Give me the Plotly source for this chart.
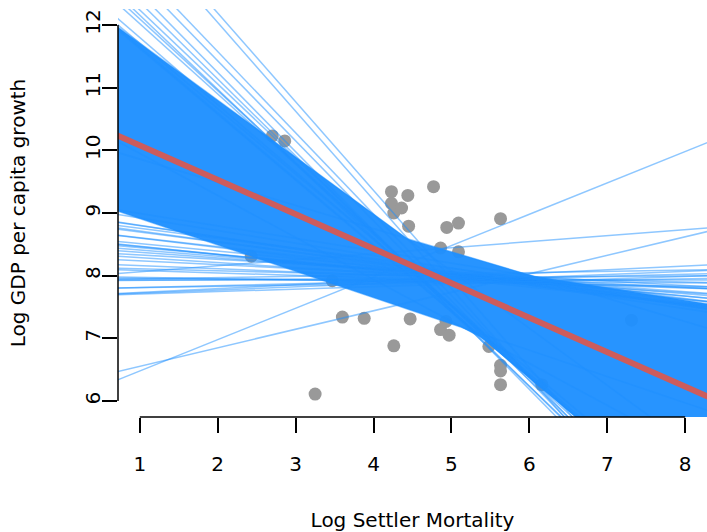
import numpy as np
import plotly.graph_objects as go

# ---- data ----
point_x = [2.70, 2.86, 2.43, 3.47, 3.60, 3.88, 3.25, 4.23, 4.23, 4.26, 4.36, 4.44,
           4.45, 4.77, 4.94, 5.09, 5.09, 5.63, 4.47, 4.26, 4.86, 4.93, 4.97, 5.48,
           5.63, 5.63, 5.63, 6.16, 7.31, 4.86]
point_y = [10.23, 10.15, 8.31, 7.92, 7.34, 7.32, 6.11, 9.34, 9.155, 9.00, 9.08, 9.28,
           8.79, 9.42, 8.77, 8.84, 8.38, 8.91, 7.31, 6.88, 7.14, 7.27, 7.05, 6.87,
           6.57, 6.48, 6.26, 6.26, 7.29, 8.44]

# dense core of bootstrap fits (intercept, slope)
core_intercepts = [12.62, 10.23, 9.19, 9.33, 10.62, 12.675]
core_slopes     = [-0.91, -0.37, -0.198, -0.42, -0.67, -1.05]

# individual visible bootstrap fits outside the core (intercept, slope)
line_intercepts = [15.02, 14.87, 14.17, 13.98, 13.77, 13.59, 13.42, 13.34, 13.24, 13.14,
                   12.87, 12.75, 12.71,
                   7.67, 7.782, 7.674, 7.93, 7.992, 8.138, 8.21, 8.296, 8.368, 8.464,
                   8.51, 8.582, 8.632, 8.744, 8.75, 8.856, 8.882, 8.978, 8.994, 9.12,
                   7.914, 7.788, 8.124, 8.402, 7.666, 8.556, 8.598, 8.916, 7.928, 7.966,
                   7.967, 5.98, 6.26]
line_slopes     = [-1.415, -1.415, -1.297, -1.276, -1.264, -1.226, -1.181, -1.184, -1.144, -1.12,
                   -1.072, -1.043, -1.055,
                   0.05, 0.03, 0.06, 0.00, -0.02, -0.03, -0.05, -0.06, -0.08, -0.09,
                   -0.10, -0.12, -0.12, -0.14, -0.15, -0.16, -0.17, -0.18, -0.19, -0.20,
                   0.01, 0.02, -0.04, -0.07, 0.04, -0.11, -0.13, -0.16, 0.02, -0.01,
                   0.096, 0.50, 0.295]

fit_intercept = 10.63
fit_slope = -0.55

x_ticks = [1, 2, 3, 4, 5, 6, 7, 8]
y_ticks = [6, 7, 8, 9, 10, 11, 12]
x_range = [0.72, 8.28]
y_range = [5.745, 12.255]

BLUE = "rgba(30,144,255,0.5)"
FONT = "DejaVu Sans"
FS = 20

fig = go.Figure()

# points (drawn first, beneath the fits)
fig.add_trace(go.Scatter(x=point_x, y=point_y, mode="markers",
                         marker=dict(size=13, color="#999999"),
                         hoverinfo="skip", showlegend=False))

# core envelope of the dense fits
gx = np.linspace(x_range[0], x_range[1], 300)
core = np.array([a + b * gx for a, b in zip(core_intercepts, core_slopes)])
upper = core.max(axis=0)
lower = core.min(axis=0)
fig.add_trace(go.Scatter(x=np.concatenate([gx, gx[::-1]]),
                         y=np.concatenate([upper, lower[::-1]]),
                         mode="lines", fill="toself",
                         fillcolor="rgba(30,144,255,0.96)",
                         line=dict(width=0), hoverinfo="skip", showlegend=False))

lx = np.array([0.0, 9.0])
for a, b in zip(core_intercepts, core_slopes):
    fig.add_trace(go.Scatter(x=lx, y=a + b * lx, mode="lines",
                             line=dict(color=BLUE, width=1.5),
                             hoverinfo="skip", showlegend=False))
for a, b in zip(line_intercepts, line_slopes):
    fig.add_trace(go.Scatter(x=lx, y=a + b * lx, mode="lines",
                             line=dict(color=BLUE, width=1.5),
                             hoverinfo="skip", showlegend=False))

# overall fit
fig.add_trace(go.Scatter(x=lx, y=fit_intercept + fit_slope * lx, mode="lines",
                         line=dict(color="#CD5C5C", width=6),
                         hoverinfo="skip", showlegend=False))

fig.update_layout(
    width=707, height=532,
    margin=dict(l=118, r=0, t=9, b=115),
    paper_bgcolor="white", plot_bgcolor="white",
    font=dict(family=FONT, size=FS, color="black"),
    showlegend=False,
    xaxis=dict(range=x_range, tickvals=x_ticks, ticktext=[str(v) for v in x_ticks],
               showgrid=False, zeroline=False, showline=False,
               ticks="outside", ticklen=15, tickwidth=1.5, tickcolor="black",
               ticklabelstandoff=14,
               title=dict(text="Log Settler Mortality", standoff=40,
                          font=dict(family=FONT, size=FS))),
    yaxis=dict(range=y_range, tickvals=y_ticks, ticktext=[str(v) for v in y_ticks],
               tickangle=-90,
               showgrid=False, zeroline=False, showline=False,
               ticks="outside", ticklen=15, tickwidth=1.5, tickcolor="black",
               ticklabelstandoff=-6,
               title=dict(text="Log GDP per capita growth", standoff=50,
                          font=dict(family=FONT, size=FS))),
    shapes=[
        dict(type="line", xref="x", yref="paper", x0=x_ticks[0], x1=x_ticks[-1],
             y0=0, y1=0, line=dict(color="black", width=1.5), layer="above"),
        dict(type="line", xref="paper", yref="y", x0=0, x1=0,
             y0=y_ticks[0], y1=y_ticks[-1], line=dict(color="black", width=1.5),
             layer="above"),
    ],
)

fig.write_html("out.html", default_width="707px", default_height="532px",
               config={"displayModeBar": False},
               post_script="document.body.style.margin='0';"
                           "document.body.style.overflow='hidden';")
